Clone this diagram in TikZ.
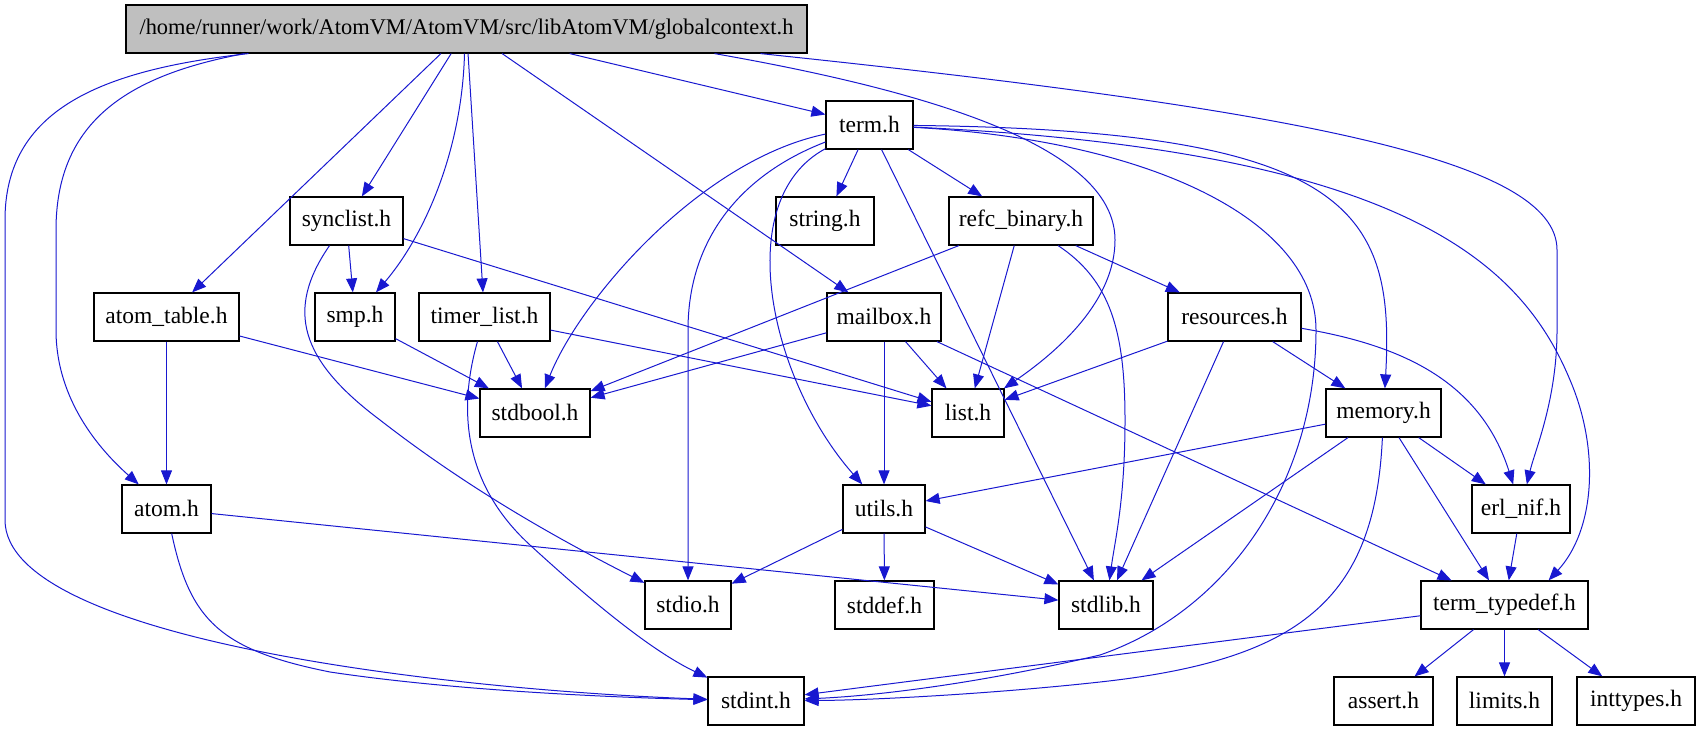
\documentclass[tikz,border=0pt]{standalone}
\usepackage{fontspec}
\setmainfont{Liberation Serif}
\usetikzlibrary{arrows.meta,calc}
\definecolor{edgeblue}{RGB}{24,24,208}
\definecolor{gcgray}{RGB}{191,191,191}
\begin{document}
\begin{tikzpicture}[x=0.5pt,y=-0.5pt,
  hdr/.style={draw=black, line width=0.6pt, rectangle, inner sep=0pt,
    minimum height=24pt, minimum width=#1*0.5pt,
    font=\fontsize{11.75pt}{14pt}\selectfont, fill=white},
  edg/.style={draw=edgeblue, line width=0.5pt, -{Triangle[length=7pt,width=5.5pt]}}]
\useasboundingbox (0,0) rectangle (1701,731);

% nodes
\node[hdr=681, fill=gcgray, font=\fontsize{11.2pt}{14pt}\selectfont] (gc) at (466.5,29) {/home/runner/work/AtomVM/AtomVM/src/libAtomVM/globalcontext.h};
\node[hdr=87]  (term) at (869.5,125) {term.h};
\node[hdr=113] (synclist) at (346.5,221) {synclist.h};
\node[hdr=98]  (string) at (825,221) {string.h};
\node[hdr=144] (refc) at (1021,221) {refc\_binary.h};
\node[hdr=145] (atomtable) at (166.5,317) {atom\_table.h};
\node[hdr=80]  (smp) at (355,317) {smp.h};
\node[hdr=131] (timer) at (484.5,317) {timer\_list.h};
\node[hdr=114] (mailbox) at (884,317) {mailbox.h};
\node[hdr=133] (resources) at (1234.5,317) {resources.h};
\node[hdr=110] (stdbool) at (535,413) {stdbool.h};
\node[hdr=72]  (list) at (968,413) {list.h};
\node[hdr=115] (memory) at (1383.5,413) {memory.h};
\node[hdr=89]  (atom) at (166.5,509) {atom.h};
\node[hdr=82]  (utils) at (884,509) {utils.h};
\node[hdr=98]  (erlnif) at (1521,509) {erl\_nif.h};
\node[hdr=86]  (stdio) at (688,605) {stdio.h};
\node[hdr=99]  (stddef) at (884.5,605) {stddef.h};
\node[hdr=94]  (stdlib) at (1106,605) {stdlib.h};
\node[hdr=167] (termtd) at (1504.5,605) {term\_typedef.h};
\node[hdr=96]  (stdint) at (756,701) {stdint.h};
\node[hdr=99]  (assert) at (1383.5,701) {assert.h};
\node[hdr=95]  (limits) at (1504.5,701) {limits.h};
\node[hdr=118] (inttypes) at (1636,701) {inttypes.h};

% globalcontext.h
\draw[edg] ($(gc.south)+(-218,0)$) .. controls (100,70) and (5,110) .. (5,220) -- (5,520) .. controls (5,640) and (450,690) .. (stdint);
\draw[edg] ($(gc.south)+(-222,0)$) .. controls (130,75) and (56,120) .. (56,230) -- (56,330) .. controls (56,400) and (100,450) .. (atom);
\draw[edg] (gc) -- (atomtable);
\draw[edg] (gc) -- (synclist);
\draw[edg] ($(gc.south)+(-2,0)$) .. controls (462,150) and (425,235) .. (smp);
\draw[edg] (gc) -- (timer);
\draw[edg] (gc) -- (mailbox);
\draw[edg] (gc) -- (term);
\draw[edg] ($(gc.south)+(248,0)$) .. controls (980,100) and (1115,160) .. (1115,240) .. controls (1115,300) and (1060,350) .. (list);
\draw[edg] ($(gc.south)+(294,0)$) .. controls (1300,110) and (1557,160) .. (1557,250) -- (1557,330) .. controls (1557,400) and (1535,450) .. (erlnif);

% term.h
\draw[edg] (term) -- (string);
\draw[edg] (term) -- (refc);
\draw[edg] (term) -- (stdlib);
\draw[edg] (term) .. controls (700,160) and (580,300) .. (stdbool);
\draw[edg] (term) .. controls (740,175) and (688,240) .. (688,330) -- (stdio);
\draw[edg] (term) .. controls (730,200) and (770,380) .. (utils);
\draw[edg] (term) .. controls (1150,140) and (1316,220) .. (1316,330) .. controls (1316,480) and (1230,610) .. (1100,655) .. controls (950,690) and (850,697) .. (stdint);
\draw[edg] (term) .. controls (1350,130) and (1395,210) .. (memory);
\draw[edg] (term) .. controls (1400,150) and (1520,260) .. (1570,380) .. controls (1600,450) and (1595,530) .. ($(termtd.north east)+(-40,0)$);

% synclist.h
\draw[edg] (synclist) -- (smp);
\draw[edg] (synclist) -- (list);
\draw[edg] (synclist) .. controls (285,310) and (300,360) .. (380,420) .. controls (470,490) and (560,540) .. (stdio);

% atom_table.h, smp.h
\draw[edg] (atomtable) -- (stdbool);
\draw[edg] (atomtable) -- (atom);
\draw[edg] (smp) -- (stdbool);

% timer_list.h
\draw[edg] (timer) -- (stdbool);
\draw[edg] (timer) -- (list);
\draw[edg] (timer) .. controls (455,420) and (470,490) .. (530,545) .. controls (590,600) and (650,650) .. (stdint);

% mailbox.h
\draw[edg] (mailbox) -- (stdbool);
\draw[edg] (mailbox) -- (list);
\draw[edg] (mailbox) -- (utils);
\draw[edg] (mailbox) -- (termtd);

% refc_binary.h
\draw[edg] (refc) -- (stdbool);
\draw[edg] (refc) -- (list);
\draw[edg] (refc) -- (resources);
\draw[edg] (refc) .. controls (1110,280) and (1125,330) .. (1125,420) .. controls (1125,500) and (1115,540) .. (stdlib);

% resources.h
\draw[edg] (resources) -- (list);
\draw[edg] (resources) -- (stdlib);
\draw[edg] (resources) -- (memory);
\draw[edg] (resources) .. controls (1400,345) and (1480,380) .. (erlnif);

% memory.h
\draw[edg] (memory) -- (utils);
\draw[edg] (memory) -- (stdlib);
\draw[edg] (memory) -- (termtd);
\draw[edg] (memory) -- (erlnif);
\draw[edg] (memory) .. controls (1375,600) and (1300,660) .. (1100,682) .. controls (1000,693) and (880,700) .. (stdint);

% utils.h
\draw[edg] (utils) -- (stdio);
\draw[edg] (utils) -- (stddef);
\draw[edg] (utils) -- (stdlib);

% atom.h
\draw[edg] (atom) -- (stdlib);
\draw[edg] (atom) .. controls (190,620) and (220,650) .. (330,672) .. controls (450,690) and (600,697) .. (stdint);

% erl_nif.h, term_typedef.h
\draw[edg] (erlnif) -- (termtd);
\draw[edg] (termtd) -- (stdint);
\draw[edg] (termtd) -- (assert);
\draw[edg] (termtd) -- (limits);
\draw[edg] (termtd) -- (inttypes);
\end{tikzpicture}
\end{document}
